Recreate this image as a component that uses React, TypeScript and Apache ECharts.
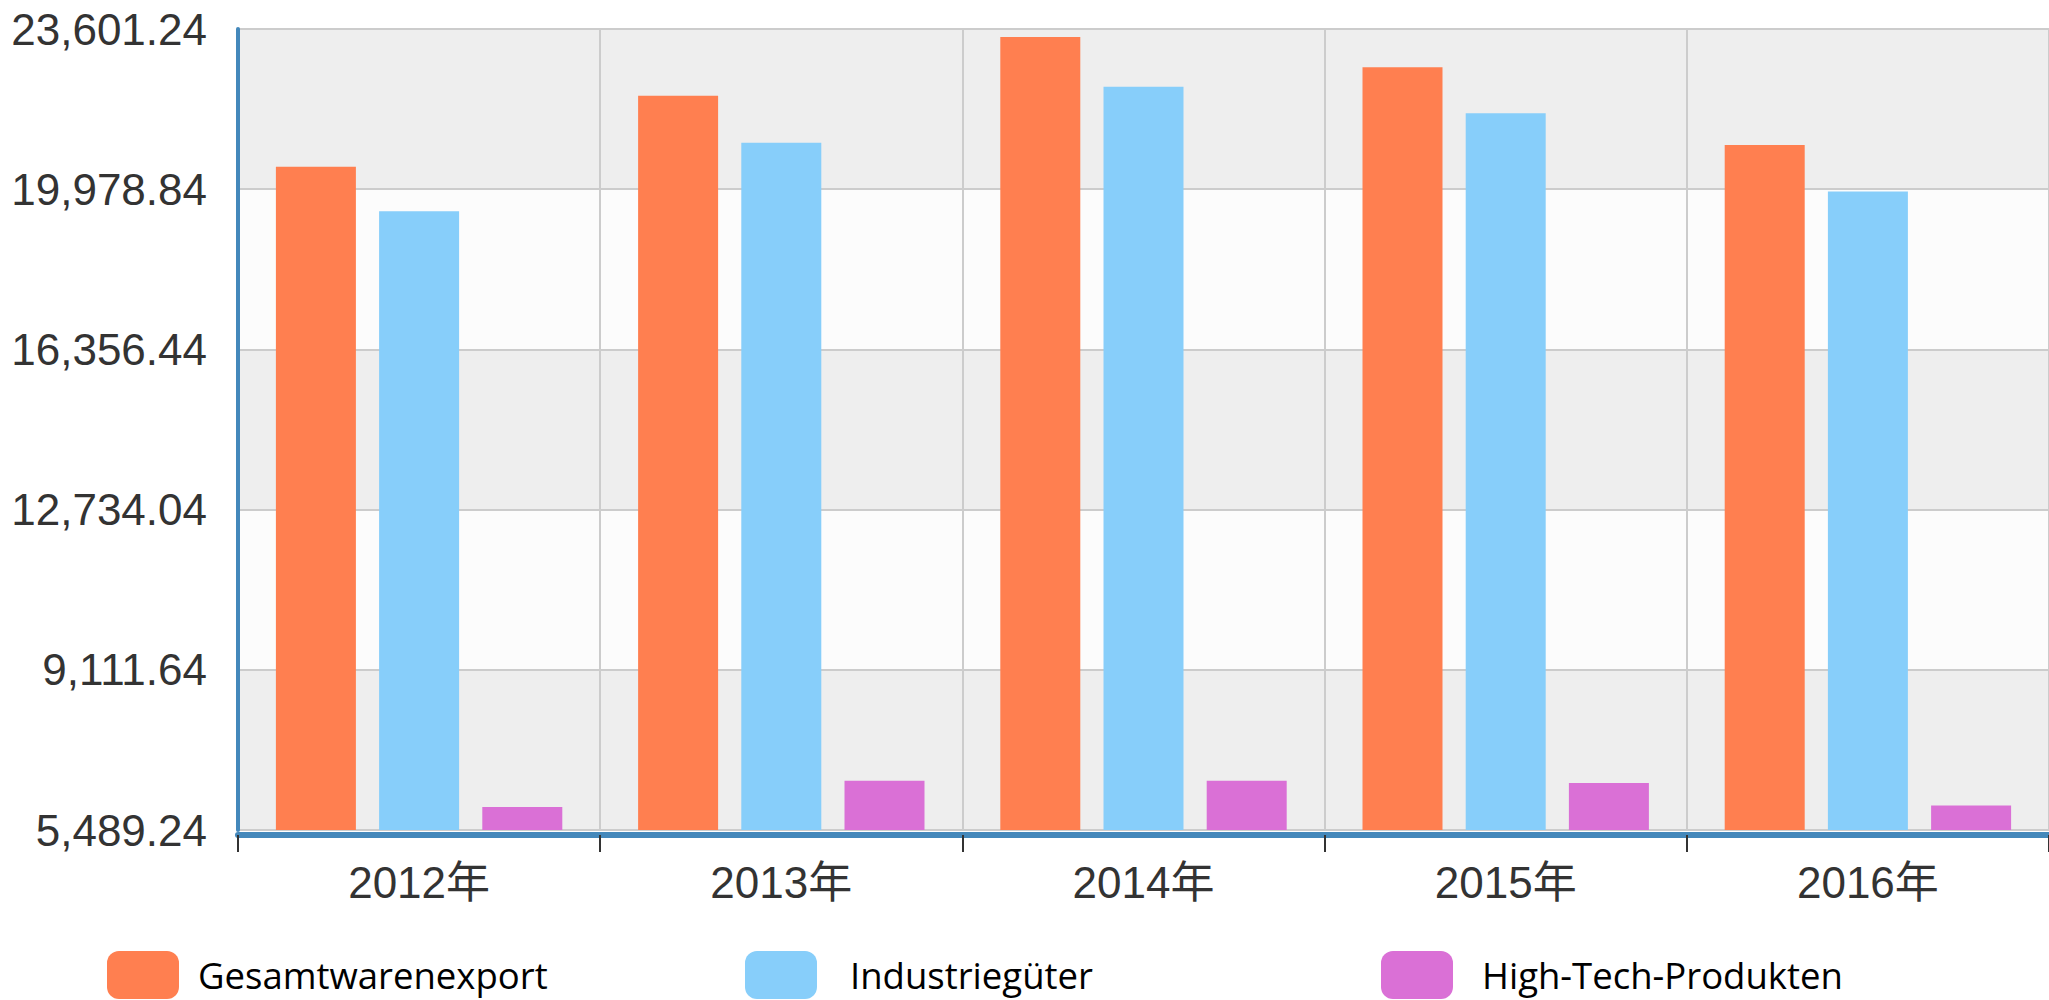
import React, { useEffect, useRef } from "react";
import * as echarts from "echarts";

const categories = ["2012年", "2013年", "2014年", "2015年", "2016年"];
const seriesNames = ["Gesamtwarenexport", "Industriegüter", "High-Tech-Produkten"];
const gesamtwarenexport = [20487.1, 22090.0, 23422.9, 22734.7, 20976.3];
const industriegueter = [19481.6, 21027.4, 22296.0, 21695.4, 19924.4];
const highTech = [6012.0, 6603.3, 6605.0, 6552.1, 6042.0];
const yTicks = [5489.24, 9111.64, 12734.04, 16356.44, 19978.84, 23601.24];
const colors = ["#ff7f50", "#87cefa", "#da70d6"];

const axisFont = "'Liberation Sans', Arial, 'Noto Sans CJK SC', sans-serif";
const legendFont = "'Open Sans', 'Noto Sans', sans-serif";

export default function App() {
  const ref = useRef<HTMLDivElement>(null);

  useEffect(() => {
    if (!ref.current) return;
    const chart = echarts.init(ref.current, undefined, { renderer: "svg" });
    const interval = Math.round((yTicks[1] - yTicks[0]) * 100) / 100;

    const legendDefs = [
      { left: 107, pad: 14 },
      { left: 745, pad: 28 },
      { left: 1381, pad: 24 },
    ];

    chart.setOption({
      animation: false,
      backgroundColor: "#ffffff",
      color: colors,
      grid: { left: 238, top: 29, right: -13, bottom: 170, containLabel: false },
      legend: legendDefs.map((d, i) => ({
        left: d.left,
        top: 951,
        padding: 0,
        itemWidth: 72,
        itemHeight: 48,
        icon: "roundRect",
        data: [seriesNames[i]],
        textStyle: {
          fontFamily: legendFont,
          fontSize: 36.5,
          color: "#000",
          padding: [0, 0, 0, d.pad],
        },
      })),
      xAxis: {
        type: "category",
        data: categories,
        offset: 5,
        axisLine: { show: true, lineStyle: { color: "#48b", width: 6 } },
        axisTick: { show: true, length: 17, lineStyle: { color: "#333", width: 2 } },
        axisLabel: { fontFamily: axisFont, fontSize: 44, color: "#333", margin: 25 },
        splitLine: { show: true, lineStyle: { color: "#cccccc", width: 2 } },
      },
      yAxis: {
        type: "value",
        min: yTicks[0],
        max: yTicks[yTicks.length - 1],
        interval,
        axisLine: { show: true, lineStyle: { color: "#48b", width: 4 } },
        axisTick: { show: false },
        axisLabel: {
          fontFamily: axisFont,
          fontSize: 44,
          color: "#333",
          margin: 31,
          formatter: (v: number) =>
            v.toLocaleString("en-US", { minimumFractionDigits: 2, maximumFractionDigits: 2 }),
        },
        splitLine: { show: true, lineStyle: { color: "#cccccc", width: 2 } },
        splitArea: { show: true, areaStyle: { color: ["#eeeeee", "#fcfcfc"] } },
      },
      series: [
        { name: seriesNames[0], type: "bar", data: gesamtwarenexport, barWidth: 80, barGap: "29%" },
        { name: seriesNames[1], type: "bar", data: industriegueter, barWidth: 80, barGap: "29%" },
        { name: seriesNames[2], type: "bar", data: highTech, barWidth: 80, barGap: "29%" },
      ],
    });

    return () => chart.dispose();
  }, []);

  return (
    <div
      ref={ref}
      style={{ position: "fixed", left: 0, top: 0, width: 2049, height: 1000 }}
    />
  );
}
